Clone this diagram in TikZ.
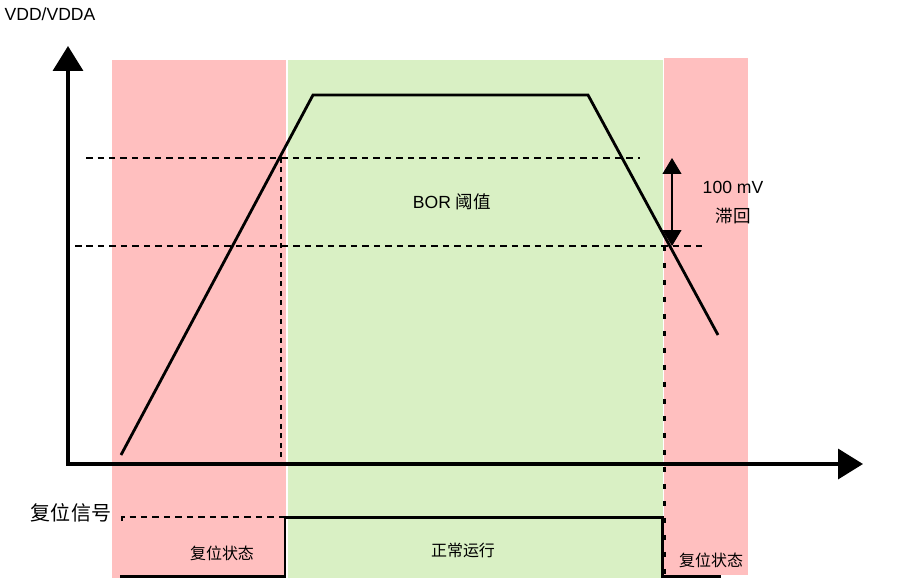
\documentclass[tikz,border=0pt]{standalone}
\usepackage{fontspec}
\setmainfont{Liberation Sans}
\newfontfamily\cjk{Noto Sans CJK SC}
\usetikzlibrary{arrows.meta}
\usetikzlibrary{positioning}
\definecolor{resetred}{RGB}{255,191,191}
\definecolor{rungreen}{RGB}{217,240,196}
\tikzset{axisline/.style = {line width = 2pt, line join = miter,
                            {Triangle[length = 0.5cm, width = 0.6cm]}-{Triangle[length = 0.5cm, width = 0.6cm]}}}
\tikzset{hyst/.style = {line width = 0.6pt,
                        {Triangle[length = 0.32cm, width = 0.38cm]}-{Triangle[length = 0.32cm, width = 0.38cm]}}}
\tikzset{level/.style = {line width = 0.9pt, dash pattern = on 0.13cm off 0.1cm}}
\tikzset{lbl/.style = {inner sep = 0, font = \fontsize{10}{12}\selectfont}}
\tikzset{cjklbl/.style = {inner sep = 0, font = \cjk\fontsize{9.1}{11}\selectfont}}

\begin{document}
\begin{tikzpicture}[x = 0.02cm, y = -0.02cm]
      \useasboundingbox (0, 0) rectangle (908, 584);

      % states
      \fill [resetred] (112, 60) rectangle (286, 578);
      \fill [rungreen] (288, 60) rectangle (663, 578);
      \fill [resetred] (664, 58) rectangle (748, 575);

      \coordinate (origin) at (68, 464);
      \coordinate (ytip) at (68, 46);
      \coordinate (xtip) at (863, 464);
      \coordinate (p0) at (121, 455);
      \coordinate (p1) at (313, 95);
      \coordinate (p2) at (588, 95);
      \coordinate (p3) at (718, 335);

      % thresholds
      \draw [level] (86, 158) -- (640, 158);
      \draw [level] (75, 246) -- (707, 246);
      \draw [line width = 0.9pt, dash pattern = on 0.1cm off 0.09cm] (281, 158) -- (281, 464);
      \draw [line width = 1.7pt, dash pattern = on 0.1cm off 0.24cm] (664, 246) -- (664, 578);

      \draw [axisline] (ytip) -- (origin) -- (xtip);
      \draw [line width = 1.6pt] (p0) -- (p1) -- (p2) -- (p3);
      \draw [hyst] (672, 158) -- (672, 246);

      \node [lbl] (vdd) at (50, 14) {VDD/VDDA};
      \node [lbl] (bor) at (452, 202) {BOR {\cjk 阈值}};
      \node [lbl] (mv) at (733, 187) {100 mV};
      \node [lbl, font = \cjk\fontsize{10}{12}\selectfont] (hys) at (733, 216) {滞回};

      % reset signal
      \node [cjklbl, font = \cjk\fontsize{11.4}{13}\selectfont] (rst) at (71, 513) {复位信号};
      \draw [level] (122, 521) -- (122, 517) -- (285, 517);
      \draw [line width = 1.7pt] (120, 576) -- (285, 576) -- (285, 517) -- (662, 517)
            -- (662, 576) -- (721, 576);
      \node [cjklbl] (rstleft) at (222, 553) {复位状态};
      \node [cjklbl] (run) at (463, 550) {正常运行};
      \node [cjklbl] (rstright) at (711, 560) {复位状态};
    \end{tikzpicture}
\end{document}
